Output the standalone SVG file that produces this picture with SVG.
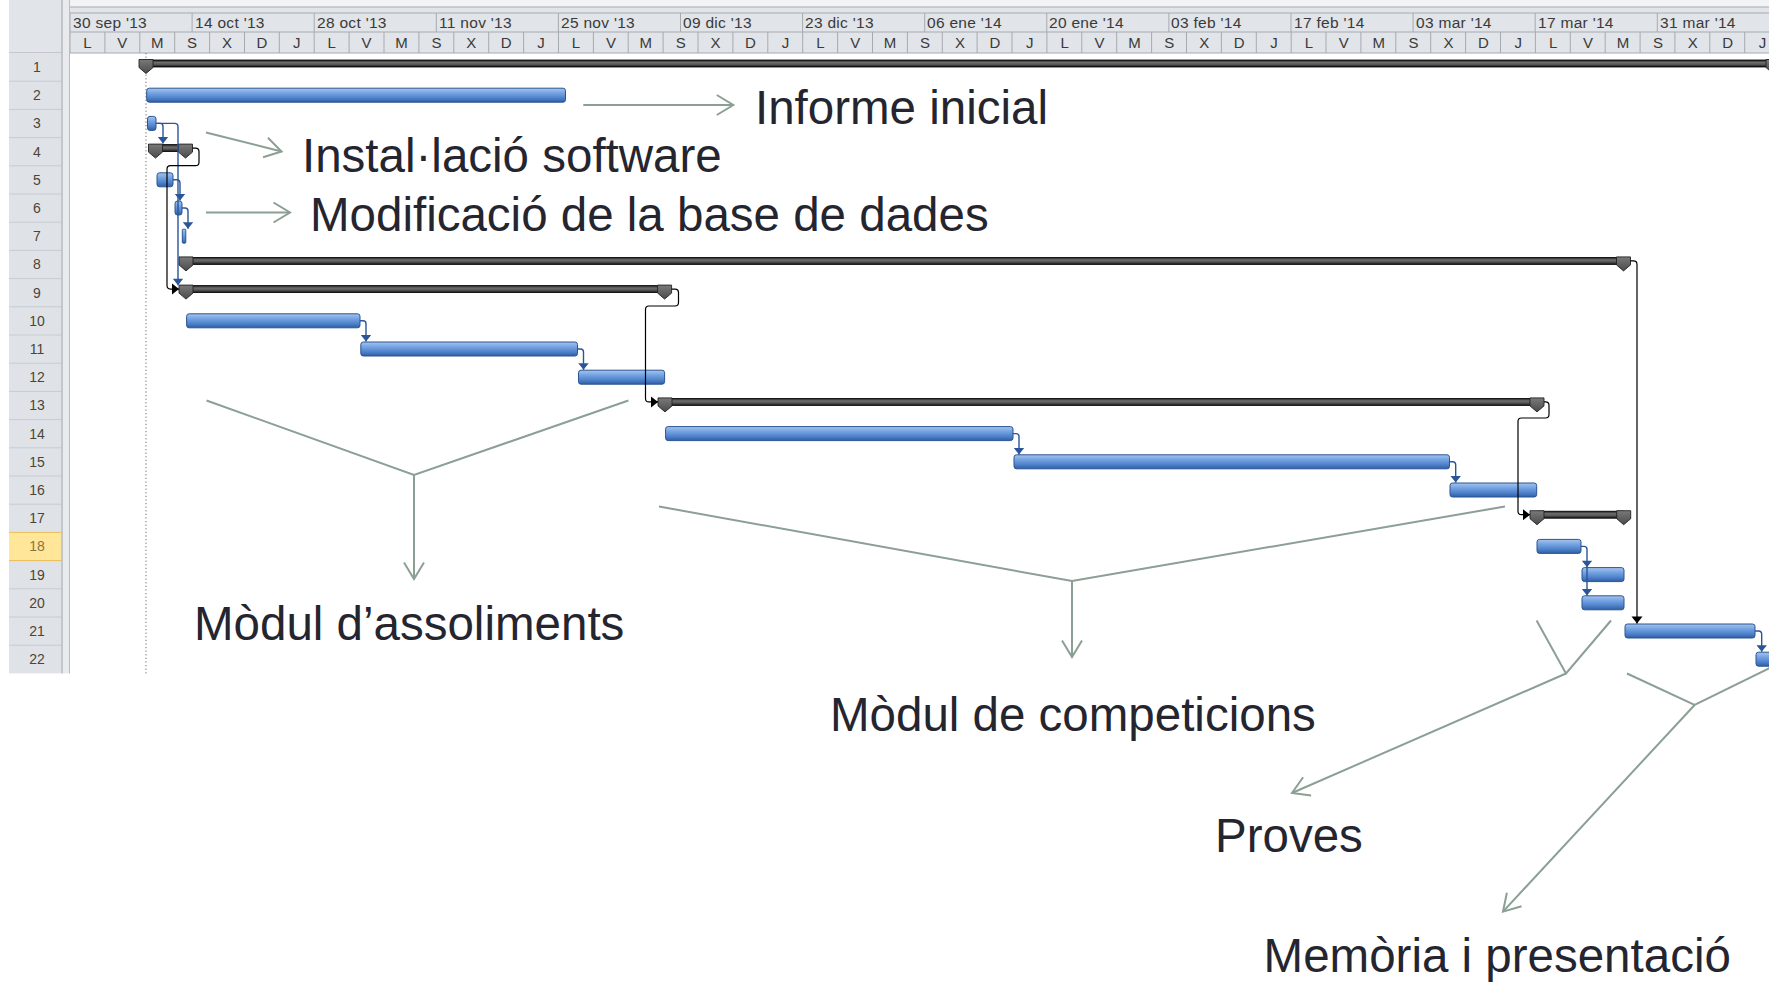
<svg xmlns="http://www.w3.org/2000/svg" width="1769" height="982" viewBox="0 0 1769 982">
<defs>
<linearGradient id="gBlue" x1="0" y1="0" x2="0" y2="1">
<stop offset="0" stop-color="#a6c4ee"/><stop offset="0.35" stop-color="#74a3e2"/><stop offset="0.7" stop-color="#4f82cb"/><stop offset="1" stop-color="#2f5fa3"/>
</linearGradient>
<linearGradient id="gSum" x1="0" y1="0" x2="0" y2="1">
<stop offset="0" stop-color="#1a1a1a"/><stop offset="0.35" stop-color="#6e6e6e"/><stop offset="0.65" stop-color="#555"/><stop offset="1" stop-color="#111"/>
</linearGradient>
<linearGradient id="gMk" x1="0" y1="0" x2="0" y2="1">
<stop offset="0" stop-color="#7a7a7a"/><stop offset="1" stop-color="#4a4a4a"/>
</linearGradient>
<path id="mk" d="M-7,0 H7 V8 L0,14 L-7,8 Z"/>
<marker id="bArr" markerUnits="userSpaceOnUse" markerWidth="14" markerHeight="14" refX="0" refY="0" orient="auto" overflow="visible"><path d="M0,0 L-6.5,-5.2 L-6.5,5.2 Z" fill="#2a5699"/></marker>
<marker id="kArr" markerUnits="userSpaceOnUse" markerWidth="14" markerHeight="14" refX="0" refY="0" orient="auto" overflow="visible"><path d="M0,0 L-7,-5.5 L-7,5.5 Z" fill="#000"/></marker>
<marker id="aArr" markerUnits="userSpaceOnUse" markerWidth="30" markerHeight="30" refX="0" refY="0" orient="auto" overflow="visible"><path d="M-16.5,-10 L0,0 L-16.5,10" fill="none" stroke="#8c9f95" stroke-width="2"/></marker>
</defs>
<style>
.hdr{font-family:"Liberation Sans",Arial,sans-serif;font-size:15.5px;letter-spacing:0.3px;fill:#3a3a3a}
.day{font-family:"Liberation Sans",Arial,sans-serif;font-size:15px;fill:#3a3a3a;text-anchor:middle}
.rn{font-family:"Liberation Sans",Arial,sans-serif;font-size:14px;fill:#4e4436;text-anchor:middle}
.grid{stroke:#a7aaae;stroke-width:1;fill:none}
.bar{fill:url(#gBlue);stroke:#2b5592;stroke-width:1}
.sum{fill:url(#gSum);stroke:#000;stroke-width:0.8}
.smk{fill:url(#gMk);stroke:#222;stroke-width:0.9}
.bl{fill:none;stroke:#2a5699;stroke-width:1.4;marker-end:url(#bArr)}
.kl{fill:none;stroke:#000;stroke-width:1.2;marker-end:url(#kArr)}
.an{fill:none;stroke:#8c9f95;stroke-width:2}
.ana{fill:none;stroke:#8c9f95;stroke-width:2;marker-end:url(#aArr)}
.lbl{font-family:"Liberation Sans",Arial,sans-serif;font-size:47.5px;fill:#25252f}
</style>
<rect width="1769" height="982" fill="#fff"/>

<g id="header">
<rect x="9" y="0" width="1760" height="53" fill="#e1e4e8"/>
<rect x="70" y="0" width="1699" height="7" fill="#f2f3f5"/>
<path class="grid" d="M70,7 H1769 M70,13 H1769 M70,32 H1769 M9,53 H1769"/>
<path class="grid" d="M70,13V53 M192.1,13V32 M314.2,13V32 M436.3,13V32 M558.4,13V32 M680.5,13V32 M802.6,13V32 M924.7,13V32 M1046.8,13V32 M1168.9,13V32 M1291,13V32 M1413.1,13V32 M1535.2,13V32 M1657.3,13V32"/>
<path class="grid" d="M104.9,32V53 M139.8,32V53 M174.7,32V53 M209.6,32V53 M244.5,32V53 M279.3,32V53 M314.2,32V53 M349.1,32V53 M384,32V53 M418.9,32V53 M453.8,32V53 M488.7,32V53 M523.6,32V53 M558.5,32V53 M593.4,32V53 M628.2,32V53 M663.1,32V53 M698,32V53 M732.9,32V53 M767.8,32V53 M802.7,32V53 M837.6,32V53 M872.5,32V53 M907.4,32V53 M942.3,32V53 M977.1,32V53 M1012,32V53 M1046.9,32V53 M1081.8,32V53 M1116.7,32V53 M1151.6,32V53 M1186.5,32V53 M1221.4,32V53 M1256.3,32V53 M1291.2,32V53 M1326,32V53 M1360.9,32V53 M1395.8,32V53 M1430.7,32V53 M1465.6,32V53 M1500.5,32V53 M1535.4,32V53 M1570.3,32V53 M1605.2,32V53 M1640.1,32V53 M1674.9,32V53 M1709.8,32V53 M1744.7,32V53"/>
<g class="hdr">
<text x="73" y="28">30 sep '13</text><text x="195" y="28">14 oct '13</text><text x="317" y="28">28 oct '13</text><text x="439" y="28">11 nov '13</text><text x="561" y="28">25 nov '13</text><text x="683" y="28">09 dic '13</text><text x="805" y="28">23 dic '13</text><text x="927" y="28">06 ene '14</text><text x="1049" y="28">20 ene '14</text><text x="1171" y="28">03 feb '14</text><text x="1294" y="28">17 feb '14</text><text x="1416" y="28">03 mar '14</text><text x="1538" y="28">17 mar '14</text><text x="1660" y="28">31 mar '14</text>
</g>
<g class="day">
<text x="87.4" y="48">L</text><text x="122.3" y="48">V</text><text x="157.2" y="48">M</text><text x="192.1" y="48">S</text><text x="227" y="48">X</text><text x="261.9" y="48">D</text><text x="296.8" y="48">J</text>
<text x="331.7" y="48">L</text><text x="366.6" y="48">V</text><text x="401.5" y="48">M</text><text x="436.4" y="48">S</text><text x="471.3" y="48">X</text><text x="506.2" y="48">D</text><text x="541.1" y="48">J</text>
<text x="576" y="48">L</text><text x="610.9" y="48">V</text><text x="645.8" y="48">M</text><text x="680.7" y="48">S</text><text x="715.6" y="48">X</text><text x="750.5" y="48">D</text><text x="785.4" y="48">J</text>
<text x="820.3" y="48">L</text><text x="855.2" y="48">V</text><text x="890.1" y="48">M</text><text x="925" y="48">S</text><text x="959.9" y="48">X</text><text x="994.8" y="48">D</text><text x="1029.7" y="48">J</text>
<text x="1064.6" y="48">L</text><text x="1099.5" y="48">V</text><text x="1134.4" y="48">M</text><text x="1169.3" y="48">S</text><text x="1204.2" y="48">X</text><text x="1239.1" y="48">D</text><text x="1274" y="48">J</text>
<text x="1308.9" y="48">L</text><text x="1343.8" y="48">V</text><text x="1378.7" y="48">M</text><text x="1413.6" y="48">S</text><text x="1448.5" y="48">X</text><text x="1483.4" y="48">D</text><text x="1518.3" y="48">J</text>
<text x="1553.2" y="48">L</text><text x="1588.1" y="48">V</text><text x="1623" y="48">M</text><text x="1657.9" y="48">S</text><text x="1692.8" y="48">X</text><text x="1727.7" y="48">D</text><text x="1762.6" y="48">J</text>
</g>
</g>

<g id="row-labels">
<rect x="9" y="53" width="52.5" height="620.4" fill="#dfe3e8"/>
<rect x="9" y="532.4" width="52.5" height="28.2" fill="#ffe699"/>
<path d="M9,532.4 H61.5 M9,560.6 H61.5" stroke="#e9bd55" stroke-width="1"/>
<path stroke="#c7ccd2" stroke-width="1" d="M9,81.2H61.5 M9,109.4H61.5 M9,137.6H61.5 M9,165.8H61.5 M9,194H61.5 M9,222.2H61.5 M9,250.4H61.5 M9,278.6H61.5 M9,306.8H61.5 M9,335H61.5 M9,363.2H61.5 M9,391.4H61.5 M9,419.6H61.5 M9,447.8H61.5 M9,476H61.5 M9,504.2H61.5 M9,588.8H61.5 M9,617H61.5 M9,645.2H61.5"/>
<rect x="61.5" y="0" width="8.5" height="673.4" fill="#e8eaed"/>
<path d="M62,0 V673.4" stroke="#9ea2a7" stroke-width="1"/>
<path d="M69.5,0 V673.4" stroke="#b9bdc2" stroke-width="1"/>
<g class="rn">
<text x="37" y="72">1</text><text x="37" y="100.2">2</text><text x="37" y="128.4">3</text><text x="37" y="156.6">4</text><text x="37" y="184.8">5</text><text x="37" y="213">6</text><text x="37" y="241.2">7</text><text x="37" y="269.4">8</text><text x="37" y="297.6">9</text><text x="37" y="325.8">10</text><text x="37" y="354">11</text><text x="37" y="382.2">12</text><text x="37" y="410.4">13</text><text x="37" y="438.6">14</text><text x="37" y="466.8">15</text><text x="37" y="495">16</text><text x="37" y="523.2">17</text><text x="37" y="551.4" fill="#8a7440">18</text><text x="37" y="579.6">19</text><text x="37" y="607.8">20</text><text x="37" y="636">21</text><text x="37" y="664.2">22</text>
</g>
</g>

<path id="start-line" d="M146,53 V673.4" stroke="#6a6a6a" stroke-width="1" stroke-dasharray="1.2 2.4"/>

<g id="task-1"><rect class="sum" x="146" y="60" width="1640" height="7"/><use href="#mk" class="smk" x="146" y="59.5"/><use href="#mk" class="smk" x="1773" y="59.5"/></g>
<g id="task-2"><rect class="bar" x="146.7" y="88.2" width="418.8" height="14" rx="2.5"/></g>
<g id="task-3"><rect class="bar" x="147.5" y="116.4" width="8.5" height="14" rx="2.5"/></g>
<g id="task-4"><rect class="sum" x="155.5" y="144.6" width="30" height="7"/><use href="#mk" class="smk" x="155.5" y="144.1"/><use href="#mk" class="smk" x="185.5" y="144.1"/></g>
<g id="task-5"><rect class="bar" x="157" y="172.8" width="16" height="14" rx="2.5"/></g>
<g id="task-6"><rect class="bar" x="175" y="201" width="7" height="14" rx="2.5"/></g>
<g id="task-7"><rect class="bar" x="182.3" y="229.2" width="3.5" height="14" rx="1"/></g>
<g id="task-8"><rect class="sum" x="186" y="257.4" width="1437.5" height="7"/><use href="#mk" class="smk" x="186" y="256.9"/><use href="#mk" class="smk" x="1623.5" y="256.9"/></g>
<g id="task-9"><rect class="sum" x="186" y="285.6" width="478.6" height="7"/><use href="#mk" class="smk" x="186" y="285.1"/><use href="#mk" class="smk" x="664.6" y="285.1"/></g>
<g id="task-10"><rect class="bar" x="186.6" y="313.8" width="173.4" height="14" rx="2.5"/></g>
<g id="task-11"><rect class="bar" x="360.8" y="342" width="216.7" height="14" rx="2.5"/></g>
<g id="task-12"><rect class="bar" x="578.5" y="370.2" width="86.1" height="14" rx="2.5"/></g>
<g id="task-13"><rect class="sum" x="665" y="398.4" width="872" height="7"/><use href="#mk" class="smk" x="665" y="397.9"/><use href="#mk" class="smk" x="1537" y="397.9"/></g>
<g id="task-14"><rect class="bar" x="665.6" y="426.6" width="347.4" height="14" rx="2.5"/></g>
<g id="task-15"><rect class="bar" x="1014" y="454.8" width="435.5" height="14" rx="2.5"/></g>
<g id="task-16"><rect class="bar" x="1450" y="483" width="86.7" height="14" rx="2.5"/></g>
<g id="task-17"><rect class="sum" x="1537" y="511.2" width="86.7" height="7"/><use href="#mk" class="smk" x="1537" y="510.7"/><use href="#mk" class="smk" x="1623.7" y="510.7"/></g>
<g id="task-18"><rect class="bar" x="1537" y="539.4" width="44" height="14" rx="2.5"/></g>
<g id="task-19"><rect class="bar" x="1582" y="567.6" width="42" height="14" rx="2.5"/></g>
<g id="task-20"><rect class="bar" x="1582" y="595.8" width="42" height="14" rx="2.5"/></g>
<g id="task-21"><rect class="bar" x="1625" y="624" width="130" height="14" rx="2.5"/></g>
<g id="task-22"><rect class="bar" x="1756" y="652.2" width="40" height="14" rx="2.5"/></g>

<g id="connectors">
<path class="bl" d="M156,123.4 H160 Q163,123.4 163,126.4 V143.6"/>
<path class="bl" d="M156,123.4 H174.5 Q178,123.4 178,126.9 V285.2"/>
<path class="bl" d="M173,179.8 H176.5 Q180,179.8 180,183.3 V200.6"/>
<path class="bl" d="M182,208 H185 Q188,208 188,211 V228.8"/>
<path class="bl" d="M360,320.8 H363 Q366,320.8 366,323.8 V341.6"/>
<path class="bl" d="M577.5,349 H580.5 Q583.5,349 583.5,352 V369.8"/>
<path class="bl" d="M1013,433.6 H1016 Q1019,433.6 1019,436.6 V454.4"/>
<path class="bl" d="M1449.5,461.8 H1452.5 Q1455.7,461.8 1455.7,465 V482.6"/>
<path class="bl" d="M1581,546.4 H1584 Q1587,546.4 1587,549.4 V567.2"/>
<path class="bl" d="M1587,567.2 V595.4"/>
<path class="bl" d="M1755,631 H1758.5 Q1761.7,631 1761.7,634.2 V651.8"/>
<path class="kl" d="M192.5,148.1 H195.5 Q199,148.1 199,151.6 V162.2 Q199,165.7 195.5,165.7 H170.5 Q167,165.7 167,169.2 V285.6 Q167,289.1 170.5,289.1 H179"/>
<path class="kl" d="M671.6,289.1 H675 Q678.5,289.1 678.5,292.6 V302.5 Q678.5,306 675,306 H649 Q645.5,306 645.5,309.5 V398.4 Q645.5,401.9 649,401.9 H658"/>
<path class="kl" d="M1544,401.9 H1545.5 Q1549,401.9 1549,405.4 V414.5 Q1549,418 1545.5,418 H1521.5 Q1518,418 1518,421.5 V511.2 Q1518,514.7 1521.5,514.7 H1530"/>
<path class="kl" d="M1630.5,260.9 H1633.5 Q1637,260.9 1637,264.4 V623.5"/>
</g>

<g id="annotation-connectors">
<path class="ana" d="M583.3,105 H733.3"/>
<path class="ana" d="M206,132.5 L281.5,151.5"/>
<path class="ana" d="M206,212.5 H290"/>
<path class="an" d="M206.5,400.5 L414,475 L628.4,400.5"/>
<path class="ana" d="M414,475 V579"/>
<path class="an" d="M659,506.5 L1072,581 L1505,506.5"/>
<path class="ana" d="M1072,581 V657"/>
<path class="an" d="M1536.6,620.5 L1566,673.5 L1611,620.5"/>
<path class="ana" d="M1566,673.5 L1292,793"/>
<path class="an" d="M1627,673.5 L1694.6,705 L1772,667"/>
<path class="ana" d="M1694.6,705 L1503,911.6"/>
</g>

<g id="label-informe"><text class="lbl" x="755" y="124">Informe inicial</text></g>
<g id="label-installacio"><text class="lbl" x="302" y="171.5">Instal·lació software</text></g>
<g id="label-modificacio"><text class="lbl" x="310" y="231">Modificació de la base de dades</text></g>
<g id="label-assoliments"><text class="lbl" x="194" y="640">Mòdul d’assoliments</text></g>
<g id="label-competicions"><text class="lbl" x="830" y="731">Mòdul de competicions</text></g>
<g id="label-proves"><text class="lbl" x="1215" y="852">Proves</text></g>
<g id="label-memoria"><text class="lbl" x="1263.6" y="972">Memòria i presentació</text></g>
</svg>
